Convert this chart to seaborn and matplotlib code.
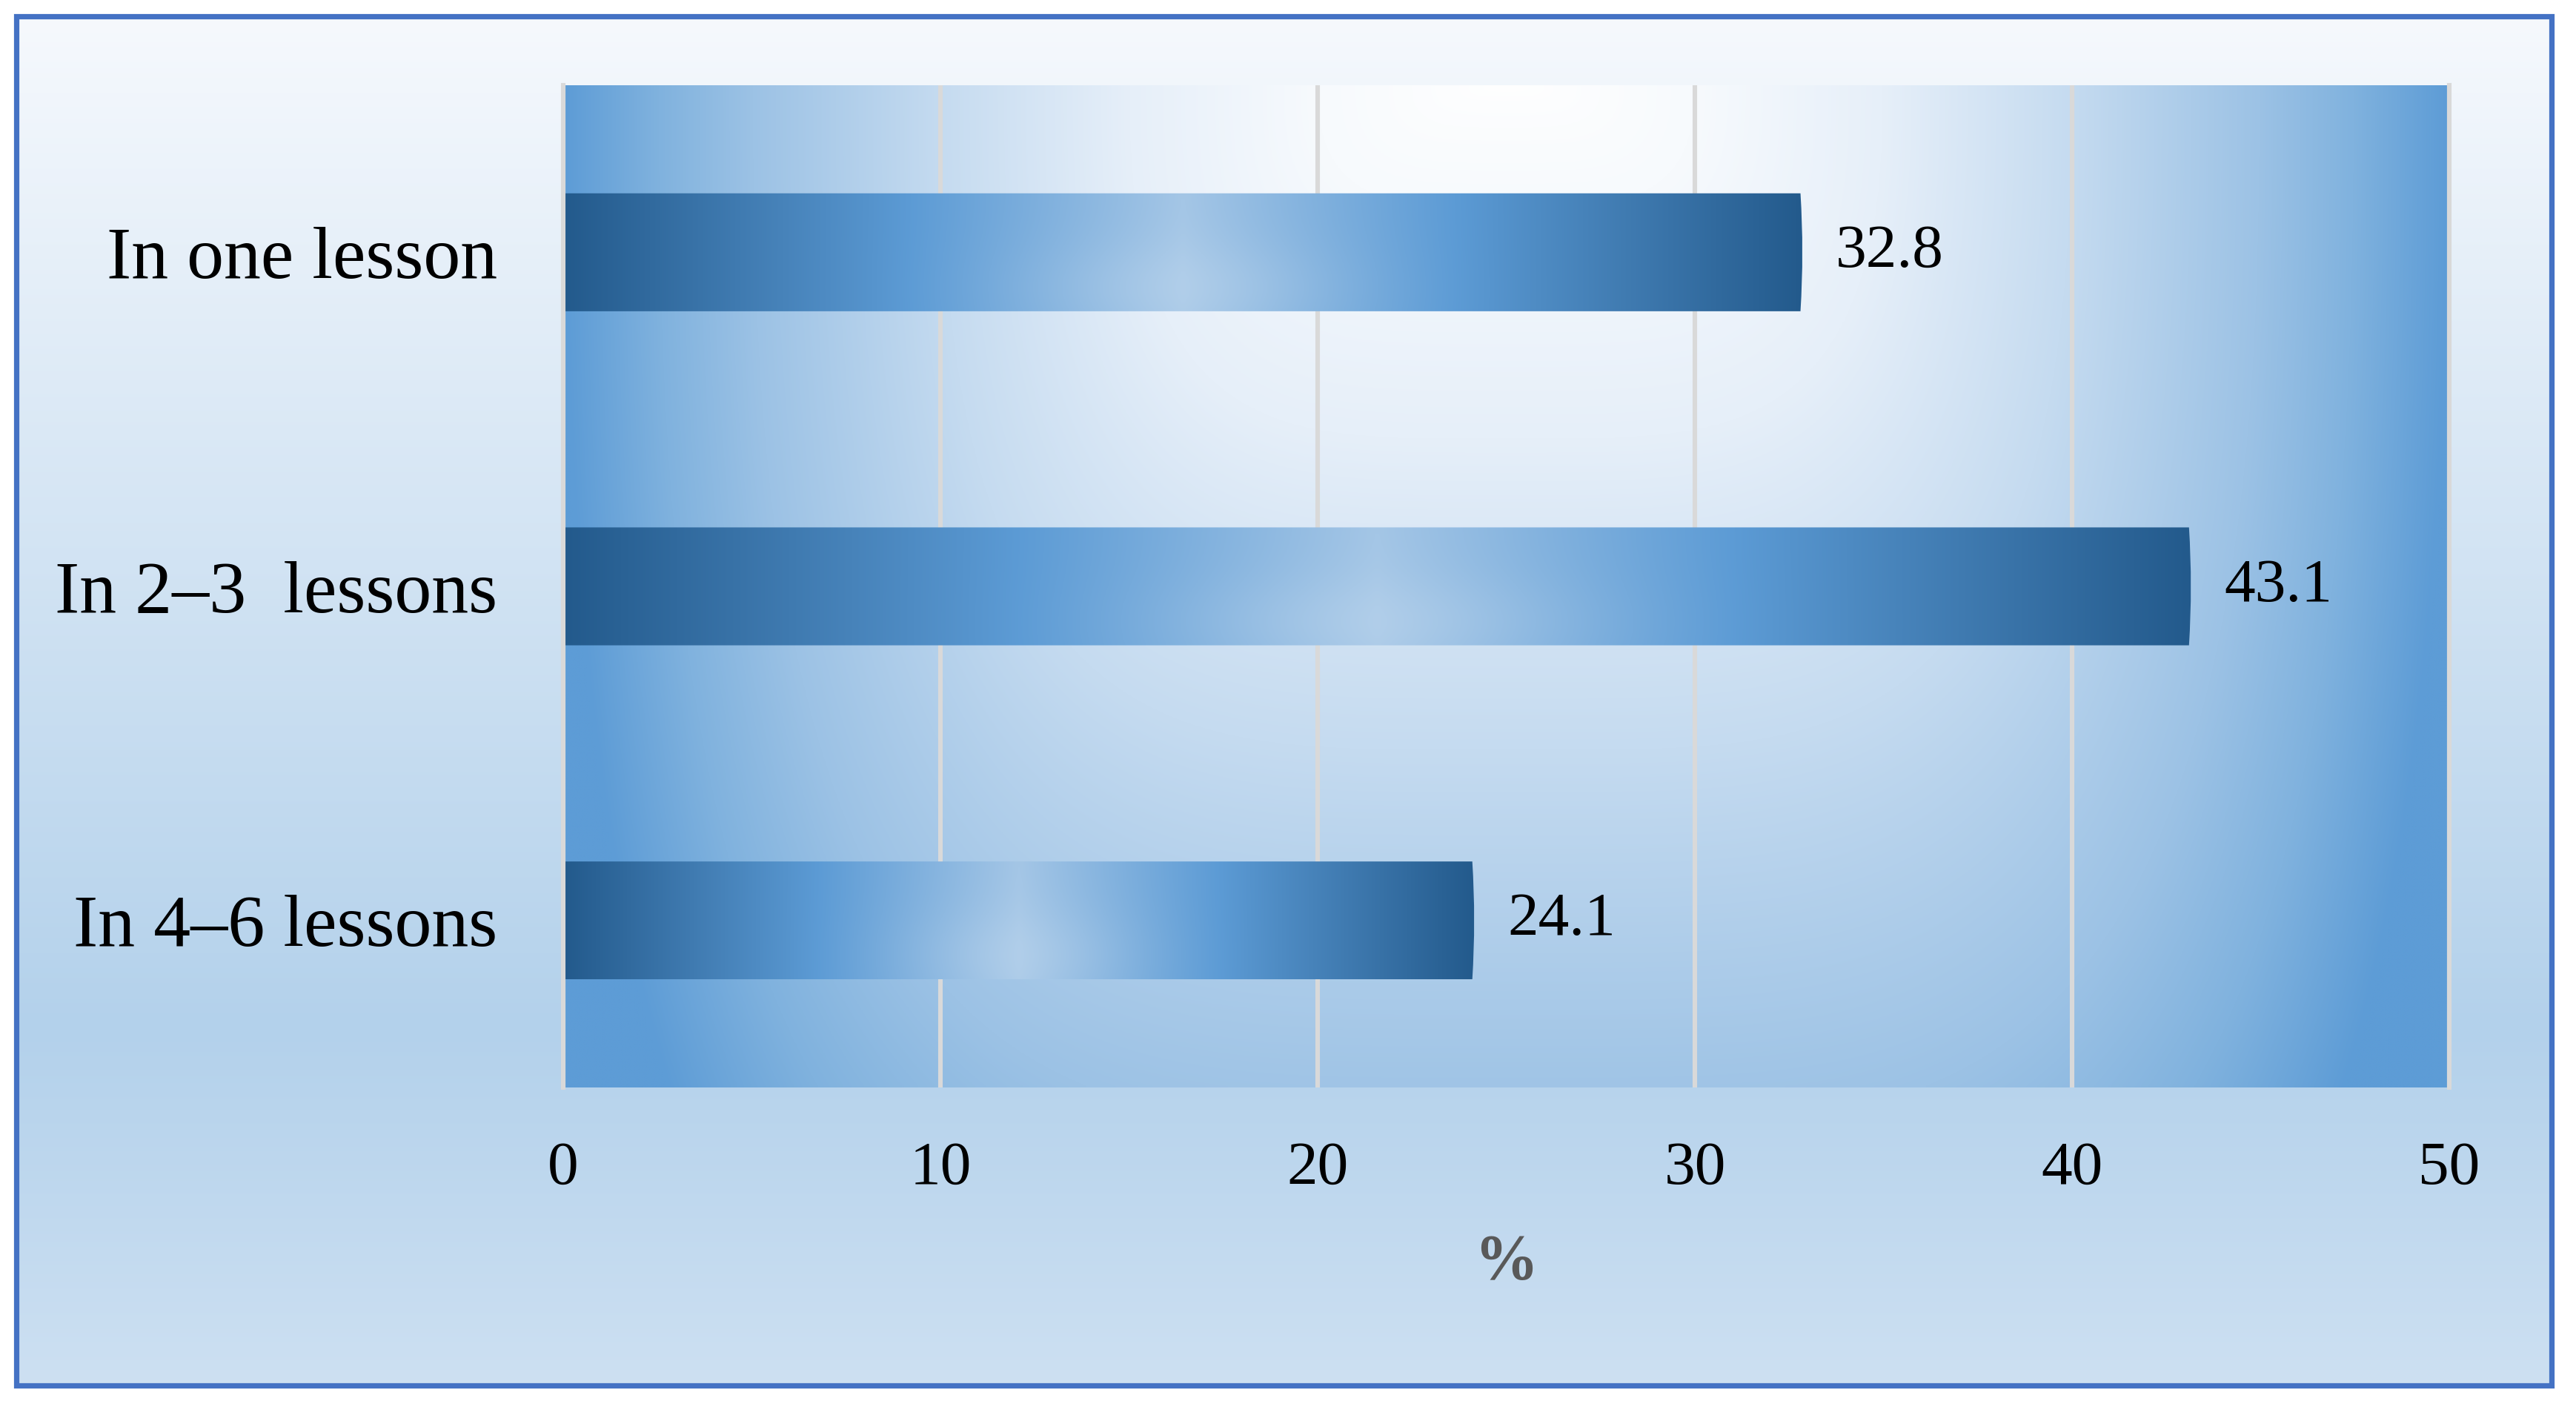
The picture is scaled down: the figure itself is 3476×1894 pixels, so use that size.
import numpy as np
import pandas as pd
import seaborn as sns
import matplotlib.pyplot as plt
from matplotlib.colors import to_rgb
from matplotlib.patches import Rectangle, PathPatch
from matplotlib.path import Path

# data
categories = ["In one lesson", "In 2–3  lessons", "In 4–6 lessons"]
shares = [32.8, 43.1, 24.1]
x_ticks = [0, 10, 20, 30, 40, 50]
x_label = "%"


def ramp(t, stops, colors):
    """map t (any shape) through a piecewise-linear colour ramp -> rgb array"""
    rgb = np.array([to_rgb(c) for c in colors])
    return np.stack([np.interp(t, stops, rgb[:, i]) for i in range(3)], axis=-1)


sns.set_style("white")
plt.rcParams["font.family"] = ["Liberation Serif", "DejaVu Serif"]
plt.rcParams["text.color"] = "black"
plt.rcParams["xtick.color"] = "black"
plt.rcParams["ytick.color"] = "black"

W, H = 3476, 1894
fig = plt.figure(figsize=(W / 200, H / 200), dpi=200)
fig.patch.set_facecolor("white")

# outer panel: vertical gradient inside a blue frame
bx0, by0 = 22 / W, 1 - 1869 / H
bw, bh = (3443 - 22) / W, (1869 - 22) / H
bg = fig.add_axes([bx0, by0, bw, bh], zorder=-2)
v = np.linspace(0, 1, 400)[:, None] * np.ones((1, 2))
bg.imshow(ramp(v, [0, 0.74, 1], ["#f6f9fd", "#b3d1eb", "#cde0f2"]),
          aspect="auto", extent=[0, 1, 0, 1], interpolation="bilinear")
bg.set_axis_off()
fig.add_artist(Rectangle((bx0, by0), bw, bh, transform=fig.transFigure,
                         fill=False, edgecolor="#4472c4", lw=2.6))

# plot area background: white glow at the top centre, blue at the sides
pos = [760 / W, 1 - 1467 / H, (3305 - 760) / W, (1467 - 115) / H]
pa = fig.add_axes(pos, zorder=-1)
u = np.linspace(0, 1, 600)[None, :]
w = np.linspace(0, 1, 300)[:, None]
dx = np.abs(u - 0.5) / 0.5
dy = 0.78 * w ** 0.64
t = np.clip((dx ** 4 + dy ** 4) ** 0.25, 0, 1)
pa.imshow(ramp(t, [0, 0.2, 0.4, 0.6, 0.8, 0.9, 1.0],
               ["#ffffff", "#f7fafd", "#e6eff9", "#c5dbf0", "#9cc2e5", "#80b2de", "#5d9cd6"]),
          aspect="auto", extent=[0, 1, 0, 1], interpolation="bilinear")
pa.set_axis_off()

# main axes
ax = fig.add_axes(pos)
ax.set_facecolor("none")
df = pd.DataFrame({"when": categories, "share": shares})
sns.barplot(data=df, x="share", y="when", orient="h", ax=ax,
            width=0.353, errorbar=None, color="#5b9bd5")

# replace flat bars with the cylinder-like gradient
s = np.linspace(0, 1, 400)[None, :]
r = np.linspace(0, 1, 80)[:, None]
base = ramp(s * np.ones_like(r), [0, 0.28, 0.5, 0.72, 1.0],
            ["#235a8c", "#5c9bd5", "#a4c6e6", "#5c9bd5", "#235a8c"])
glow = 0.14 * np.exp(-((s - 0.5) / 0.13) ** 2 - ((r - 0.8) / 0.4) ** 2)
bar_img = np.clip(base + glow[..., None] * (1 - base), 0, 1)

bulge = 0.05
for p in ax.patches:
    x0, y0, bwid, bhgt = p.get_x(), p.get_y(), p.get_width(), p.get_height()
    x1, y1, yc = x0 + bwid, y0 + bhgt, y0 + bhgt / 2
    verts = [(x0, y0), (x1, y0), (x1 + 2 * bulge, yc), (x1, y1), (x0, y1), (x0, y0)]
    codes = [Path.MOVETO, Path.LINETO, Path.CURVE3, Path.CURVE3, Path.LINETO, Path.CLOSEPOLY]
    clip = PathPatch(Path(verts, codes), transform=ax.transData)
    im = ax.imshow(bar_img, extent=[x0, x1 + bulge, y1, y0], aspect="auto",
                   interpolation="bilinear", zorder=2)
    im.set_clip_path(clip)
    p.set_facecolor("none")
    p.set_edgecolor("none")

ax.bar_label(ax.containers[0], fmt="%.1f", padding=17, fontsize=30, color="black")

ax.set_xlim(0, 50)
ax.set_ylim(2.5, -0.5)
ax.set_xticks(x_ticks)
ax.tick_params(axis="x", length=0, pad=26, labelsize=30, labelcolor="black")
ax.tick_params(axis="y", length=0, pad=32, labelsize=36, labelcolor="black")
ax.set_ylabel("")
ax.set_xlabel(x_label, fontsize=31, fontweight="bold", color="#595959", labelpad=18)

ax.set_axisbelow(True)
ax.xaxis.grid(True, color="#d9d9d9", lw=2.2)
ax.yaxis.grid(False)
for side in ["top", "bottom"]:
    ax.spines[side].set_visible(False)
for side in ["left", "right"]:
    ax.spines[side].set_color("#d9d9d9")
    ax.spines[side].set_linewidth(2.2)

fig.savefig("out.png", dpi=200)
